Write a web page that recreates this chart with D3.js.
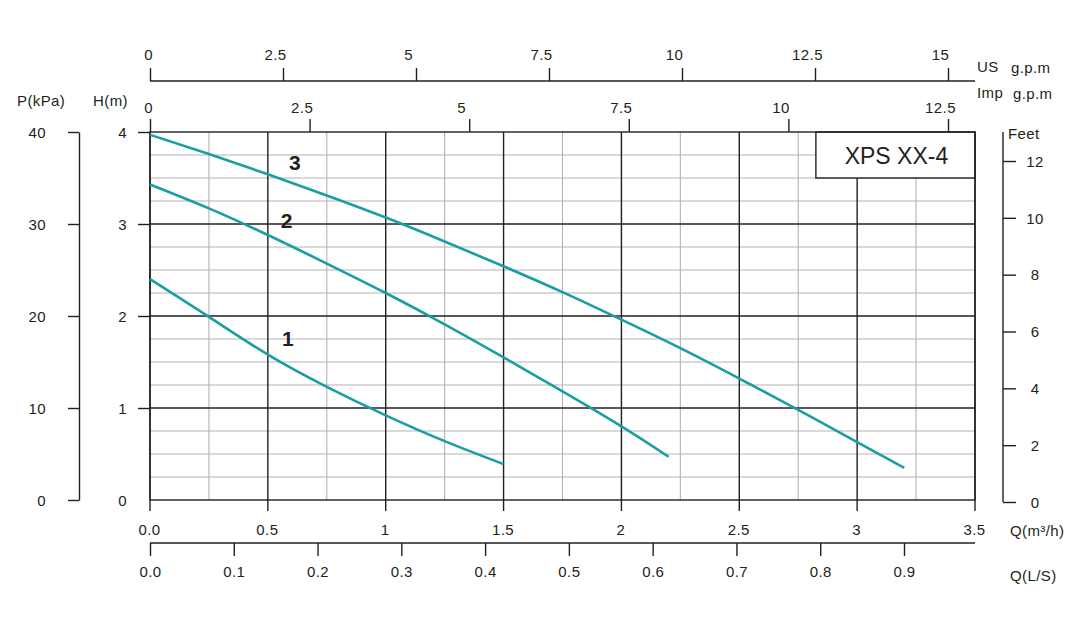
<!DOCTYPE html>
<html>
<head>
<meta charset="utf-8">
<script src="https://cdn.jsdelivr.net/npm/d3@7"></script>
<style>
  html, body { margin: 0; padding: 0; background: #fff; }
  svg { display: block; font-family: "Liberation Sans", Arial, sans-serif; }
  text { fill: #231f20; }
</style>
</head>
<body>
<svg id="chart" width="1084" height="619"></svg>
<script>
// ---------- data ----------
const curveNames = ["1", "2", "3"];
const curve1 = [[0,2.40],[0.25,1.99],[0.5,1.58],[0.75,1.23],[1,0.92],[1.25,0.64],[1.5,0.39]];
const curve2 = [[0,3.43],[0.25,3.17],[0.5,2.88],[0.75,2.57],[1,2.25],[1.25,1.91],[1.5,1.55],[1.75,1.18],[2,0.80],[2.2,0.47]];
const curve3 = [[0,3.97],[0.25,3.76],[0.5,3.54],[0.75,3.31],[1,3.07],[1.25,2.81],[1.5,2.54],[1.75,2.26],[2,1.96],[2.25,1.65],[2.5,1.32],[2.75,0.98],[3,0.63],[3.2,0.35]];

const qTicks = [0, 0.5, 1, 1.5, 2, 2.5, 3, 3.5];
const qTickLabels = ["0.0", "0.5", "1", "1.5", "2", "2.5", "3", "3.5"];
const lsTicks = [0, 0.1, 0.2, 0.3, 0.4, 0.5, 0.6, 0.7, 0.8, 0.9];
const hTicks = [1, 2, 3, 4];
const hLabelTicks = [0, 1, 2, 3, 4];
const kpaTicks = [0, 10, 20, 30, 40];
const feetTicks = [0, 2, 4, 6, 8, 10, 12];
const usTicks = [0, 2.5, 5, 7.5, 10, 12.5, 15];
const impTicks = [0, 2.5, 5, 7.5, 10, 12.5];
const modelName = "XPS XX-4";

// ---------- layout ----------
const svg = d3.select("#chart");
const INK = "#231f20", GRID = "#b3b3b3", TEAL = "#1a9ea3";
const FS = "15px", LS = "0.4px";
const x = d3.scaleLinear().domain([0, 3.5]).range([150, 975]);
const y = d3.scaleLinear().domain([0, 4]).range([500, 132]);
const xLS = d3.scaleLinear().domain([0, 0.9]).range([150, 904]);
const xUS = d3.scaleLinear().domain([0, 15]).range([150, 948]);
const xImp = d3.scaleLinear().domain([0, 12.5]).range([150, 948]);
const yKpa = d3.scaleLinear().domain([0, 40]).range([500, 132]);
const yFeet = d3.scaleLinear().domain([0, 12]).range([502, 161]);
const plain = d => String(d);

function styleAxis(g) {
  g.selectAll("path.domain").attr("stroke", INK).attr("stroke-width", 1.4);
  g.selectAll(".tick line").attr("stroke", INK).attr("stroke-width", 1.4);
  g.selectAll(".tick text").attr("fill", INK).style("font-size", FS).style("letter-spacing", LS)
    .style("font-family", "'Liberation Sans', Arial, sans-serif");
}

// ---------- grid ----------
const grid = svg.append("g");
const minorQ = d3.range(0.25, 3.5, 0.5);
const minorH = d3.range(0, 4, 0.25).filter(v => Math.abs(v - Math.round(v)) > 1e-6);
grid.selectAll("line.vq").data(minorQ).join("line")
  .attr("x1", d => x(d)).attr("x2", d => x(d)).attr("y1", y(0)).attr("y2", y(4))
  .attr("stroke", GRID).attr("stroke-width", 1.1);
grid.selectAll("line.hq").data(minorH).join("line")
  .attr("y1", d => y(d)).attr("y2", d => y(d)).attr("x1", x(0)).attr("x2", x(3.5))
  .attr("stroke", GRID).attr("stroke-width", 1.1);
const majH = [1, 2, 3];
grid.selectAll("line.hm").data(majH).join("line")
  .attr("y1", d => y(d)).attr("y2", d => y(d)).attr("x1", x(0)).attr("x2", x(3.5))
  .attr("stroke", INK).attr("stroke-width", 1.4);
grid.selectAll("line.vm").data(qTicks).join("line")
  .attr("x1", d => x(d)).attr("x2", d => x(d)).attr("y1", y(4)).attr("y2", y(0) + 11)
  .attr("stroke", INK).attr("stroke-width", 1.4);

// ---------- model box ----------
svg.append("rect").attr("x", x(2.825)).attr("y", y(4)).attr("width", x(3.5) - x(2.825)).attr("height", y(3.5) - y(4))
  .attr("fill", "#fff").attr("stroke", INK).attr("stroke-width", 1.4);
svg.append("text").attr("x", (x(2.825) + x(3.5)) / 2 + 1).attr("y", (y(4) + y(3.5)) / 2 + 1)
  .attr("dy", "0.35em").attr("text-anchor", "middle").style("font-size", "23px").text(modelName);

// ---------- frame ----------
svg.append("rect").attr("x", x(0)).attr("y", y(4)).attr("width", x(3.5) - x(0)).attr("height", y(0) - y(4))
  .attr("fill", "none").attr("stroke", INK).attr("stroke-width", 1.4);

// ---------- curves ----------
const line = d3.line().x(d => x(d[0])).y(d => y(d[1])).curve(d3.curveNatural);
const curves = [curve1, curve2, curve3];
svg.append("g").selectAll("path").data(curves).join("path")
  .attr("d", line).attr("fill", "none").attr("stroke", TEAL).attr("stroke-width", 2.6)
  .attr("stroke-linecap", "butt");
const labelPos = [[0.585, 1.76], [0.58, 3.04], [0.615, 3.67]];
svg.append("g").selectAll("text").data(curveNames).join("text")
  .attr("x", (d, i) => x(labelPos[i][0])).attr("y", (d, i) => y(labelPos[i][1]))
  .attr("dy", "0.36em").attr("text-anchor", "middle")
  .style("font-size", "21px").style("font-weight", "bold").text(d => d);

// ---------- bottom axes ----------
const axQ = svg.append("g").attr("transform", `translate(0,${y(0)})`)
  .call(d3.axisBottom(x).tickValues(qTicks).tickSize(11).tickSizeOuter(0)
    .tickFormat((d, i) => qTickLabels[i]));
styleAxis(axQ);
axQ.select("path.domain").remove();
axQ.selectAll(".tick line").remove();
axQ.selectAll(".tick text").attr("y", 30).attr("dy", "0.35em").attr("dx", -1);

const axLS = svg.append("g").attr("transform", "translate(0,543)")
  .call(d3.axisBottom(xLS).tickValues(lsTicks).tickSize(13).tickSizeOuter(0).tickFormat(d3.format(".1f")));
styleAxis(axLS);
axLS.select("path.domain").attr("d", `M${x(0)},0H${x(3.5)}`);
axLS.selectAll(".tick text").attr("y", 29).attr("dy", "0.35em");

// ---------- left axes ----------
const axK = svg.append("g").attr("transform", "translate(79,0)")
  .call(d3.axisLeft(yKpa).tickValues(kpaTicks).tickSize(11).tickSizeOuter(0).tickFormat(plain));
styleAxis(axK);
axK.selectAll(".tick text").attr("x", -33).attr("dy", "0.35em");

const axH = svg.append("g").attr("transform", `translate(${x(0)},0)`)
  .call(d3.axisLeft(y).tickValues(hLabelTicks).tickSize(12).tickSizeOuter(0).tickFormat(plain));
styleAxis(axH);
axH.select("path.domain").remove();
axH.selectAll(".tick").filter(d => !hTicks.includes(d)).select("line").remove();
axH.selectAll(".tick text").attr("x", -23).attr("dy", "0.35em");

// ---------- right axis (feet) ----------
const axF = svg.append("g").attr("transform", "translate(1003,0)")
  .call(d3.axisRight(yFeet).tickValues(feetTicks).tickSize(13).tickSizeOuter(0).tickFormat(plain));
styleAxis(axF);
axF.select("path.domain").attr("d", `M0,${y(4)}V${yFeet(0)}`);
axF.selectAll(".tick text").attr("x", 32).attr("text-anchor", "middle").attr("dy", "0.35em");

// ---------- top axes ----------
const axImp = svg.append("g").attr("transform", `translate(0,${y(4)})`)
  .call(d3.axisTop(xImp).tickValues(impTicks).tickSize(13).tickSizeOuter(0).tickFormat(plain));
styleAxis(axImp);
axImp.select("path.domain").remove();
axImp.selectAll(".tick text").attr("y", -24).attr("dy", "0.35em").attr("dx", d => d === 0 ? -2 : -8);

const axUS = svg.append("g").attr("transform", "translate(0,81)")
  .call(d3.axisTop(xUS).tickValues(usTicks).tickSize(13).tickSizeOuter(0).tickFormat(plain));
styleAxis(axUS);
axUS.select("path.domain").attr("d", `M${x(0)},0H${x(3.5)}`);
axUS.selectAll(".tick text").attr("y", -26).attr("dy", "0.35em").attr("dx", d => d === 0 ? -2 : -8);

// ---------- unit labels ----------
const lab = (t, xx, yy, anchor) => svg.append("text").attr("x", xx).attr("y", yy)
  .attr("dy", "0.35em").attr("text-anchor", anchor || "start")
  .style("font-size", FS).style("letter-spacing", LS).text(t);
lab("P(kPa)", 17, 101);
lab("H(m)", 93, 101);
lab("US", 977, 67);
lab("g.p.m", 1011, 68);
lab("Imp", 977, 93);
lab("g.p.m", 1013, 94);
lab("Feet", 1008, 134);
lab("Q(m³/h)", 1010, 531);
lab("Q(L/S)", 1010, 576);
</script>
</body>
</html>
